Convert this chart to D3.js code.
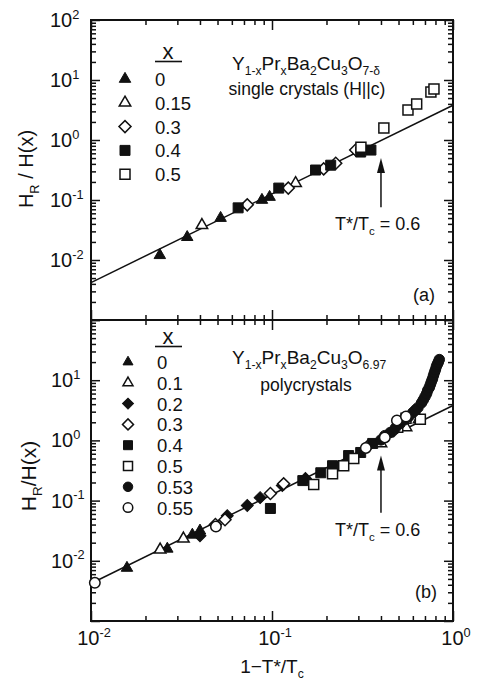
<!DOCTYPE html>
<html>
<head>
<meta charset="utf-8">
<script src="https://cdn.jsdelivr.net/npm/d3@7"></script>
<style>
  body { margin: 0; background: #fff; }
  text { font-family: "Liberation Sans", Arial, sans-serif; fill: #111; }
</style>
</head>
<body>
<svg id="chart" width="480" height="682"></svg>
<script>
// axis labels
const xMajor = [0.01, 0.1, 1];
const xMajorExp = ["-2", "-1", "0"];
const yMajorTop = [1e-2, 1e-1, 1, 10, 100];
const yMajorTopExp = ["-2", "-1", "0", "1", "2"];
const yMajorBot = [1e-2, 1e-1, 1, 10];
const yMajorBotExp = ["-2", "-1", "0", "1"];

// power-law guide line, same in both panels
const fitX = [0.01, 1];
const fitY = [0.0042, 3.8];

// T*/Tc = 0.6 arrows
const arrowX = 0.4;
const arrowTopY = [0.076, 0.5];
const arrowBotY = [0.063, 0.56];

// (a) single crystals: [1-T*/Tc, HR/H(x)]
const topLabels = ["0", "0.15", "0.3", "0.4", "0.5"];
const topX0 = [[0.024, 0.012], [0.034, 0.024], [0.052, 0.050], [0.088, 0.100], [0.097, 0.112]];
const topX015 = [[0.041, 0.038], [0.135, 0.19], [0.30, 0.66]];
const topX03 = [[0.073, 0.083], [0.123, 0.158], [0.193, 0.33], [0.225, 0.41], [0.29, 0.68]];
const topX04 = [[0.065, 0.074], [0.109, 0.158], [0.174, 0.316], [0.211, 0.38], [0.309, 0.63], [0.352, 0.68]];
const topX05 = [[0.31, 0.76], [0.415, 1.58], [0.564, 3.16], [0.63, 3.98], [0.755, 6.3], [0.785, 7.1]];

// (b) polycrystals
const botLabels = ["0", "0.1", "0.2", "0.3", "0.4", "0.5", "0.53", "0.55"];
const botX0 = [[0.0158, 0.0076], [0.0264, 0.0158], [0.0363, 0.027], [0.040, 0.0316]];
const botX01 = [[0.0241, 0.0153], [0.0324, 0.0233], [0.40, 0.89], [0.55, 1.65], [0.65, 2.24]];
const botX02 = [[0.040, 0.026], [0.0566, 0.056], [0.073, 0.083], [0.086, 0.112], [0.114, 0.178], [0.153, 0.233]];
const botX03 = [[0.0487, 0.040], [0.055, 0.048], [0.098, 0.131], [0.116, 0.19], [0.338, 0.80], [0.47, 1.45]];
const botX04 = [[0.098, 0.074], [0.148, 0.215], [0.186, 0.29], [0.216, 0.38], [0.265, 0.56], [0.309, 0.63], [0.36, 0.89]];
const botX05 = [[0.17, 0.185], [0.216, 0.28], [0.249, 0.38], [0.283, 0.50], [0.495, 1.65], [0.55, 2.33], [0.66, 2.24]];
const botX053 = [[0.40, 1.02], [0.42, 1.2], [0.45, 1.35], [0.48, 1.6], [0.51, 1.9], [0.54, 2.2], [0.57, 2.5],
  [0.60, 2.9], [0.62, 3.2], [0.64, 3.5], [0.67, 4.2], [0.685, 4.7], [0.70, 5.3], [0.715, 6.0], [0.725, 6.8],
  [0.74, 7.6], [0.75, 8.5], [0.76, 9.5], [0.77, 10.5], [0.78, 12], [0.79, 13.5], [0.80, 15], [0.81, 17],
  [0.82, 18.5], [0.83, 20], [0.84, 22]];
const botX055 = [[0.0105, 0.0043], [0.049, 0.037], [0.33, 0.75], [0.42, 1.12], [0.49, 2.15], [0.55, 2.5]];

const svg = d3.select("#chart");
const x = d3.scaleLog().domain([0.01, 1]).range([91, 453]);
const yTop = d3.scaleLog().domain([1e-3, 1e2]).range([320, 20]);
const yBot = d3.scaleLog().domain([1e-3, 1e2]).range([621, 320]);

const isMajor = v => Math.abs(Math.log10(v) - Math.round(Math.log10(v))) < 1e-6;

function richText(g, px, py, parts, size, anchor) {
  const t = g.append("text")
    .attr("x", px).attr("y", py)
    .attr("font-size", size)
    .attr("text-anchor", anchor || "start");
  let shift = 0;
  parts.forEach(([s, kind]) => {
    const target = kind === "sub" ? size * 0.28 : kind === "sup" ? -size * 0.42 : 0;
    t.append("tspan")
      .attr("dy", target - shift)
      .attr("font-size", kind ? size * 0.64 : size)
      .text(s);
    shift = target;
  });
  return t;
}

function marker(g, shape, filled, cx, cy, s) {
  let type = d3.symbolSquare, area = s * s, rot = 0;
  if (shape === "tri") { type = d3.symbolTriangle; area = Math.sqrt(3) / 4 * s * s; }
  if (shape === "dia") { area = s * s / 2; rot = 45; }
  if (shape === "circ") { type = d3.symbolCircle; area = Math.PI * s * s / 4; }
  g.append("path")
    .attr("d", d3.symbol().type(type).size(area)())
    .attr("transform", `translate(${cx},${cy}) rotate(${rot})`)
    .attr("fill", filled ? "#111" : "#fff")
    .attr("stroke", "#111")
    .attr("stroke-width", filled ? 1 : 1.5);
}

function tickAxis(g, axis, pos, values, size) {
  g.append("g")
    .attr("transform", pos)
    .call(axis.tickValues(values).tickSize(size).tickFormat(() => ""))
    .call(a => a.select(".domain").remove())
    .call(a => a.selectAll("line").attr("stroke", "#111").attr("stroke-width", 1.5));
}

function drawPanel(y, series, shapes, filled, sizes) {
  const g = svg.append("g");
  const [yb, yt] = y.range();
  const [xl, xr] = x.range();
  const yMinor = y.ticks().filter(v => !isMajor(v));
  const yMaj = y.ticks().filter(isMajor);
  const xMinor = x.ticks().filter(v => !isMajor(v));
  const xMaj = x.ticks().filter(isMajor);

  tickAxis(g, d3.axisLeft(y), `translate(${xl},0)`, yMinor, -5);
  tickAxis(g, d3.axisLeft(y), `translate(${xl},0)`, yMaj, -9);
  tickAxis(g, d3.axisRight(y), `translate(${xr},0)`, yMinor, -5);
  tickAxis(g, d3.axisRight(y), `translate(${xr},0)`, yMaj, -9);
  tickAxis(g, d3.axisTop(x), `translate(0,${yt})`, xMinor, -5);
  tickAxis(g, d3.axisTop(x), `translate(0,${yt})`, xMaj, -10);
  tickAxis(g, d3.axisBottom(x), `translate(0,${yb})`, xMinor, -5);
  tickAxis(g, d3.axisBottom(x), `translate(0,${yb})`, xMaj, -10);

  g.append("rect")
    .attr("x", xl).attr("y", yt)
    .attr("width", xr - xl).attr("height", yb - yt)
    .attr("fill", "none").attr("stroke", "#111").attr("stroke-width", 2);

  g.append("path")
    .datum(fitX.map((v, i) => [v, fitY[i]]))
    .attr("d", d3.line().x(d => x(d[0])).y(d => y(d[1])))
    .attr("fill", "none").attr("stroke", "#111").attr("stroke-width", 1.5);

  series.forEach((pts, i) => {
    pts.forEach(d => marker(g, shapes[i], filled[i], x(d[0]), y(d[1]), sizes[shapes[i]]));
  });
  return g;
}

function drawArrow(g, y, ys) {
  const ax = x(arrowX), tail = y(ys[0]), tip = y(ys[1]);
  g.append("line").attr("x1", ax).attr("x2", ax).attr("y1", tail).attr("y2", tip + 10)
    .attr("stroke", "#111").attr("stroke-width", 1.5);
  g.append("path")
    .attr("d", `M${ax},${tip} L${ax - 4},${tip + 15} L${ax + 4},${tip + 15} Z`)
    .attr("fill", "#111");
}

function drawLegend(g, labels, shapes, filled, sizes, lx, tx, headY, rowY, step) {
  g.append("text").attr("x", 168).attr("y", headY).attr("font-size", 22)
    .attr("text-anchor", "middle").text("x");
  g.append("line").attr("x1", 155).attr("x2", 182).attr("y1", headY + 2.5).attr("y2", headY + 2.5)
    .attr("stroke", "#111").attr("stroke-width", 1.6);
  labels.forEach((lab, i) => {
    const cy = rowY + i * step;
    marker(g, shapes[i], filled[i], lx, cy, sizes[shapes[i]]);
    g.append("text").attr("x", tx).attr("y", cy + 7).attr("font-size", 18.5).text(lab);
  });
}

// ---------- panel (a)
const topShapes = ["tri", "tri", "dia", "sq", "sq"];
const topFilled = [true, false, false, true, false];
const topSizes = { tri: 11.5, sq: 10, dia: 12, circ: 10 };
const ga = drawPanel(yTop, [topX0, topX015, topX03, topX04, topX05], topShapes, topFilled, topSizes);
drawArrow(ga, yTop, arrowTopY);
drawLegend(ga, topLabels, topShapes, topFilled, topSizes, 125, 155, 59, 79, 23.8);

richText(ga, 232, 70, [["Y"], ["1-x", "sub"], ["Pr"], ["x", "sub"], ["Ba"], ["2", "sub"], ["Cu"], ["3", "sub"], ["O"], ["7-δ", "sub"]], 19);
ga.append("text").attr("x", 307).attr("y", 95).attr("font-size", 17.5)
  .attr("text-anchor", "middle").text("single crystals (H||c)");
richText(ga, 335, 230, [["T*/T"], ["c", "sub"], [" = 0.6"]], 18);
ga.append("text").attr("x", 413).attr("y", 301).attr("font-size", 18).text("(a)");

yMajorTop.forEach((v, i) => richText(ga, 50, yTop(v) + 7, [["10"], [yMajorTopExp[i], "sup"]], 20));
richText(ga, 33, 169, [["H"], ["R", "sub"], [" / H(x)"]], 20, "middle")
  .attr("transform", "rotate(-90,33,169)");

// ---------- panel (b)
const botShapes = ["tri", "tri", "dia", "dia", "sq", "sq", "circ", "circ"];
const botFilled = [true, false, true, false, true, false, true, false];
const botSizes = { tri: 11.5, sq: 10, dia: 12, circ: 10.5 };
const legSizes = { tri: 10, sq: 9, dia: 11, circ: 9.5 };
const gb = drawPanel(yBot, [botX0, botX01, botX02, botX03, botX04, botX05, botX053, botX055], botShapes, botFilled, botSizes);
drawArrow(gb, yBot, arrowBotY);
drawLegend(gb, botLabels, botShapes, botFilled, legSizes, 128, 157, 344, 362, 20.8);

richText(gb, 232, 364, [["Y"], ["1-x", "sub"], ["Pr"], ["x", "sub"], ["Ba"], ["2", "sub"], ["Cu"], ["3", "sub"], ["O"], ["6.97", "sub"]], 19);
gb.append("text").attr("x", 306).attr("y", 391).attr("font-size", 17.5)
  .attr("text-anchor", "middle").text("polycrystals");
richText(gb, 335, 536, [["T*/T"], ["c", "sub"], [" = 0.6"]], 18);
gb.append("text").attr("x", 415).attr("y", 598).attr("font-size", 18).text("(b)");

yMajorBot.forEach((v, i) => richText(gb, 51, yBot(v) + 7, [["10"], [yMajorBotExp[i], "sup"]], 20));
richText(gb, 36, 476, [["H"], ["R", "sub"], ["/H(x)"]], 21, "middle")
  .attr("transform", "rotate(-90,36,476)");

// x tick labels and title
xMajor.forEach((v, i) => richText(svg, x(v) + 3, 645, [["10"], [xMajorExp[i], "sup"]], 20, "middle"));
richText(svg, 272, 673, [["1−T*/T"], ["c", "sub"]], 19, "middle");
</script>
</body>
</html>
